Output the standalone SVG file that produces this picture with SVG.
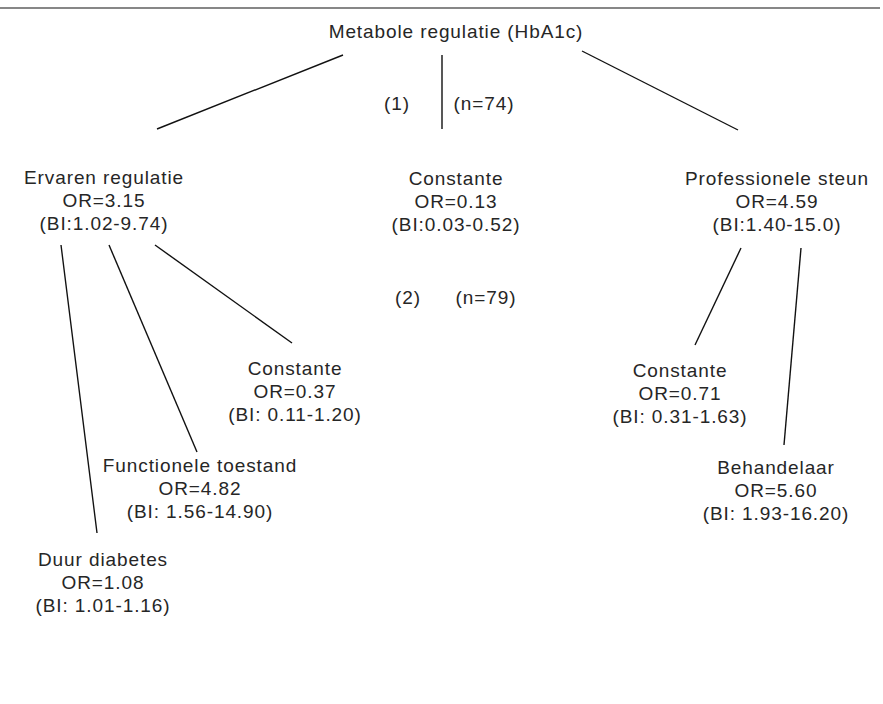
<svg xmlns="http://www.w3.org/2000/svg" width="883" height="704" viewBox="0 0 883 704">
<style>
text{font-family:"Liberation Sans",Arial,sans-serif;font-size:19px;letter-spacing:0.9px;fill:#262626;text-anchor:middle}
.c line{stroke:#111;stroke-width:1.4}
</style>
<rect width="883" height="704" fill="#fff"/>
<line x1="0" y1="8" x2="880" y2="8" stroke="#111" stroke-width="1.2"/>
<g class="c" id="connectors">
<line x1="343" y1="55" x2="157" y2="129"/>
<line x1="442" y1="55" x2="442" y2="129"/>
<line x1="582" y1="51" x2="738" y2="130"/>
<line x1="61" y1="245" x2="97" y2="533"/>
<line x1="109" y1="245" x2="197" y2="452"/>
<line x1="155" y1="245" x2="292" y2="343"/>
<line x1="741" y1="248" x2="695" y2="345"/>
<line x1="801" y1="248" x2="784" y2="445"/>
</g>
<g id="root"><text x="456" y="38">Metabole regulatie (HbA1c)</text></g>
<g id="label1"><text x="397" y="110">(1)</text><text x="484" y="110">(n=74)</text></g>
<g id="ervaren"><text x="104" y="184">Ervaren regulatie</text><text x="104" y="207">OR=3.15</text><text x="104" y="230">(BI:1.02-9.74)</text></g>
<g id="constante1"><text x="456" y="185">Constante</text><text x="456" y="208">OR=0.13</text><text x="456" y="231">(BI:0.03-0.52)</text></g>
<g id="professionele"><text x="777" y="185">Professionele steun</text><text x="777" y="208">OR=4.59</text><text x="777" y="231">(BI:1.40-15.0)</text></g>
<g id="label2"><text x="408" y="304">(2)</text><text x="486" y="304">(n=79)</text></g>
<g id="constante2"><text x="295" y="375">Constante</text><text x="295" y="398">OR=0.37</text><text x="295" y="421">(BI: 0.11-1.20)</text></g>
<g id="functionele"><text x="200" y="472">Functionele toestand</text><text x="200" y="495">OR=4.82</text><text x="200" y="518">(BI: 1.56-14.90)</text></g>
<g id="duur"><text x="103" y="566">Duur diabetes</text><text x="103" y="589">OR=1.08</text><text x="103" y="612">(BI: 1.01-1.16)</text></g>
<g id="constante3"><text x="680" y="377">Constante</text><text x="680" y="400">OR=0.71</text><text x="680" y="423">(BI: 0.31-1.63)</text></g>
<g id="behandelaar"><text x="776" y="474">Behandelaar</text><text x="776" y="497">OR=5.60</text><text x="776" y="520">(BI: 1.93-16.20)</text></g>
</svg>
